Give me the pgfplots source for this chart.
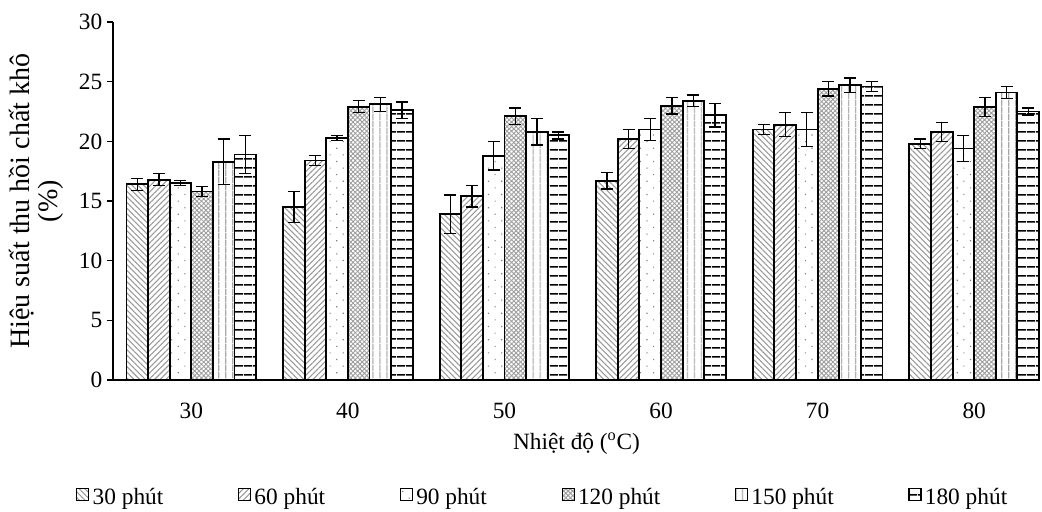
\documentclass[border=0pt]{standalone}
\usepackage{pgfplots}
\pgfplotsset{compat=1.18}
\usetikzlibrary{patterns.meta}
\usepackage{fontspec}
\setmainfont{Liberation Serif}

% one table per series: x, value, error
\pgfplotstableread{
x y e
0 16.4 0.5
1 14.5 1.3
2 13.9 1.6
3 16.7 0.7
4 21.0 0.4
5 19.8 0.4
}\tA
\pgfplotstableread{
x y e
0 16.8 0.5
1 18.4 0.4
2 15.4 0.9
3 20.2 0.8
4 21.4 1.0
5 20.8 0.8
}\tB
\pgfplotstableread{
x y e
0 16.5 0.2
1 20.3 0.2
2 18.8 1.2
3 21.0 0.9
4 21.0 1.4
5 19.4 1.1
}\tC
\pgfplotstableread{
x y e
0 15.8 0.4
1 22.9 0.5
2 22.1 0.7
3 23.0 0.7
4 24.4 0.6
5 22.9 0.8
}\tD
\pgfplotstableread{
x y e
0 18.3 1.9
1 23.1 0.6
2 20.8 1.1
3 23.4 0.5
4 24.7 0.6
5 24.1 0.5
}\tE
\pgfplotstableread{
x y e
0 18.9 1.6
1 22.6 0.7
2 20.5 0.3
3 22.2 1.0
4 24.6 0.4
5 22.5 0.3
}\tF

\begin{document}
\begin{tikzpicture}
\begin{axis}[
  width=695pt, height=268.5pt, scale only axis,
  ybar=0pt, bar width=0.138,
  xmin=-0.5, xmax=5.42, ymin=0, ymax=30,
  clip=false,
  axis x line*=bottom, axis y line*=left,
  axis line style={line width=1.2pt, black},
  xtick={0,...,5}, xticklabels={30,40,50,60,70,80},
  xtick style={draw=none},
  xticklabel shift=9pt,
  ytick={0,5,...,30},
  tick align=outside, major tick length=4.5pt,
  ytick style={line width=1pt, black},
  /pgf/number format/assume math mode=true,
  xticklabel style={font=\fontsize{17.5}{20}\selectfont},
  yticklabel style={font=\fontsize{17.5}{20}\selectfont},
  xlabel={Nhiệt độ (\textsuperscript{o}C)},
  xlabel style={font=\fontsize{17.5}{20}\selectfont, yshift=-4pt},
  ylabel={Hiệu suất thu hồi chất khô\\(\%)},
  ylabel style={align=center, font=\fontsize{21}{21}\selectfont, yshift=5pt},
  legend columns=6,
  legend style={at={(0.464,-0.285)}, anchor=north, draw=none,
    font=\fontsize{17.5}{20}\selectfont,
    nodes={inner xsep=2pt},
    /tikz/every odd column/.append style={column sep=0.5pt},
    /tikz/every even column/.append style={column sep=54pt}},
  legend image code/.code={\draw[#1, line width=0.8pt] (0pt,-2.5pt) rectangle (9pt,6.5pt);},
  every axis plot/.append style={draw=black, line width=1.4pt,
    error bars/y dir=both, error bars/y explicit,
    error bars/error bar style={line width=1pt, black},
    error bars/error mark options={rotate=90, mark size=4.5pt, line width=1pt, black}},
]
\addplot[bar shift=-0.345, pattern={Lines[angle=-45,distance=3pt,line width=0.8pt]}, pattern color=gray!80]
  table[x=x, y=y, y error=e] {\tA};
\addplot[bar shift=-0.207, pattern={Lines[angle=45,distance=3pt,line width=0.8pt]}, pattern color=gray!80]
  table[x=x, y=y, y error=e] {\tB};
\addplot[bar shift=-0.069, pattern={Dots[distance=7pt,angle=45,radius=0.6pt]}, pattern color=gray]
  table[x=x, y=y, y error=e] {\tC};
\addplot[bar shift=0.069, pattern={Hatch[angle=45,distance=2.4pt,line width=0.7pt]}, pattern color=gray!75]
  table[x=x, y=y, y error=e] {\tD};
\addplot[bar shift=0.207, pattern={Lines[angle=90,distance=5.4pt,line width=1.1pt]}, pattern color=gray!70]
  table[x=x, y=y, y error=e] {\tE};
\addplot[bar shift=0.345, pattern={Lines[angle=0,distance=6.4pt,line width=1.1pt]}, pattern color=black]
  table[x=x, y=y, y error=e] {\tF};
\legend{30 phút, 60 phút, 90 phút, 120 phút, 150 phút, 180 phút}
\path (rel axis cs:-0.1219,-0.3603) rectangle (rel axis cs:1.0022,1.0615);
\end{axis}
\end{tikzpicture}
\end{document}
